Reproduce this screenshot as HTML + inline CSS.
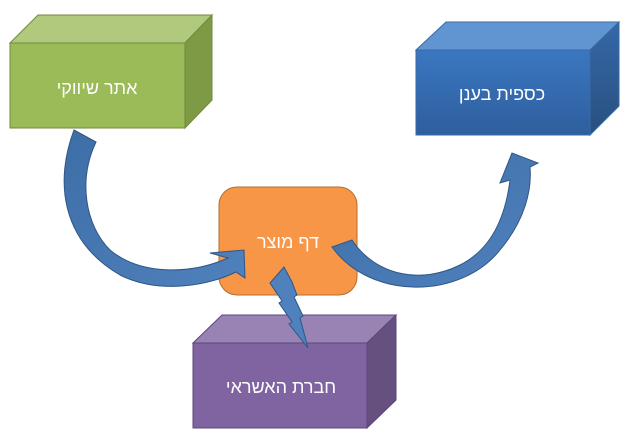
<!DOCTYPE html>
<html><head><meta charset="utf-8"><style>
html,body{margin:0;padding:0;background:#fff;}
svg{display:block;}
text{font-family:"Liberation Sans","DejaVu Sans",sans-serif;fill:#fff;font-size:18px;text-anchor:middle;}
</style></head><body>
<svg width="624" height="439" viewBox="0 0 624 439" xmlns="http://www.w3.org/2000/svg">
<defs>
<linearGradient id="bl" x1="0" y1="0" x2="0" y2="1"><stop offset="0" stop-color="#3b77c1"/><stop offset="1" stop-color="#2e5e9d"/></linearGradient>
<linearGradient id="bs" x1="0" y1="0" x2="0" y2="1"><stop offset="0" stop-color="#3568a8"/><stop offset="1" stop-color="#28507f"/></linearGradient>
<linearGradient id="ar" x1="0" y1="0" x2="1" y2="1"><stop offset="0" stop-color="#3e6ea6"/><stop offset="1" stop-color="#4f81bd"/></linearGradient>
</defs>
<!-- green -->
<polygon points="10,43 38,15 212,15 185,43" fill="#b1c97d" stroke="#71893f" stroke-width="1"/>
<polygon points="185,43 212,15 212,100 185,128" fill="#7e9a45" stroke="#71893f" stroke-width="1"/>
<rect x="10" y="43" width="175" height="85" fill="#9bbb59" stroke="#71893f" stroke-width="1"/>
<text x="97" y="94">אתר שיווקי</text>
<!-- blue -->
<polygon points="416,50 446,22 619,22 590,50" fill="#6195d1" stroke="#3a6aa5" stroke-width="1"/>
<polygon points="590,50 619,22 619,106 590,135" fill="url(#bs)" stroke="#3a6aa5" stroke-width="1"/>
<rect x="416" y="50" width="174" height="85" fill="url(#bl)" stroke="#3a6aa5" stroke-width="1"/>
<text x="502" y="100">כספית בענן</text>
<!-- purple -->
<polygon points="193,343 222,315 396,315 367,343" fill="#9983b4" stroke="#5c4776" stroke-width="1"/>
<polygon points="367,343 396,315 396,400 367,428" fill="#66507f" stroke="#5c4776" stroke-width="1"/>
<rect x="193" y="343" width="174" height="85" fill="#8064a2" stroke="#5c4776" stroke-width="1"/>
<text x="281" y="393">חברת האשראי</text>
<!-- orange -->
<rect x="219" y="187" width="138" height="108" rx="18" fill="#f79646" stroke="#b66d30" stroke-width="1"/>
<text x="288" y="248">דף מוצר</text>
<!-- left arrow -->
<path d="M74,130 C 55,180 60,240 120,275 C 160,295 210,285 236,272 L245,278 L244,250 L210,253 L228,258 C 190,275 140,275 110,250 C 85,225 78,180 96,142 Z" fill="url(#ar)" stroke="#2f5687" stroke-width="1"/>
<!-- right arrow -->
<path d="M332,247 C 370,300 460,300 500,250 C 525,220 532,190 530,167 L538,163 L512,153 L500,183 L510,180 C 505,220 490,250 460,265 C 420,285 375,275 352,240 Z" fill="url(#ar)" stroke="#2f5687" stroke-width="1"/>
<!-- lightning -->
<polygon points="284,267 270,283 282,301 279,303 292,322 289,324 308,348 300,318 303,316 294,297 297,295 292,282" fill="#4f81bd" stroke="#2f5687" stroke-width="1"/>
</svg>
</body></html>
